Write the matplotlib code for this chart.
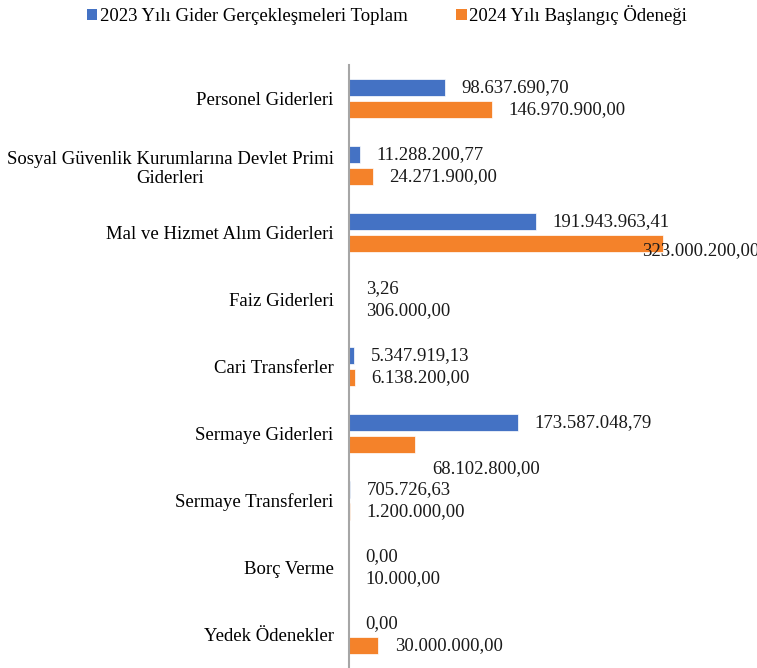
import matplotlib
matplotlib.use("Agg")
import matplotlib.pyplot as plt
import numpy as np
from matplotlib.patches import Patch

categories = [
    "Personel Giderleri",
    "Sosyal Güvenlik Kurumlarına Devlet Primi\nGiderleri",
    "Mal ve Hizmet Alım Giderleri",
    "Faiz Giderleri",
    "Cari Transferler",
    "Sermaye Giderleri",
    "Sermaye Transferleri",
    "Borç Verme",
    "Yedek Ödenekler",
]
series_2023 = [98637690.70, 11288200.77, 191943963.41, 3.26, 5347919.13,
               173587048.79, 705726.63, 0.00, 0.00]
series_2024 = [146970900.00, 24271900.00, 323000200.00, 306000.00, 6138200.00,
               68102800.00, 1200000.00, 10000.00, 30000000.00]
legend_labels = ["2023 Yılı Gider Gerçekleşmeleri Toplam", "2024 Yılı Başlangıç Ödeneği"]

BLUE = "#4472C4"
ORANGE = "#F4822A"
FONT = ["Liberation Serif", "DejaVu Serif"]
FS = 13.5

plt.rcParams["font.family"] = FONT


def tr_fmt(v):
    s = f"{v:,.2f}"
    return s.replace(",", "X").replace(".", ",").replace("X", ".")


W, H = 757, 668
fig = plt.figure(figsize=(W / 100, H / 100), dpi=100)
ax = fig.add_axes([349 / W, 0.0, 1 - 349 / W, 1 - 65 / H])

y = np.arange(len(categories))
off = 0.165
h = 0.255
b1 = ax.barh(y - off, series_2023, height=h, color=BLUE, edgecolor="white", linewidth=0.5)
b2 = ax.barh(y + off, series_2024, height=h, color=ORANGE, edgecolor="white", linewidth=0.5)

ax.set_xlim(0, 419.5e6)
ax.set_ylim(len(categories) - 0.5, -0.5)
ax.set_yticks(y)
ax.set_yticklabels(categories, fontsize=FS, ha="right", multialignment="center")
ax.tick_params(axis="y", length=0, pad=11)
ax.set_xticks([])
for s in ["top", "right", "bottom"]:
    ax.spines[s].set_visible(False)
ax.spines["left"].set_color("#A6A6A6")
ax.spines["left"].set_linewidth(1.5)

# label offset tweaks (points) for the 2024 series
tweak_2024 = {2: (-15, -5), 5: (12, -17)}

for i, v in enumerate(series_2023):
    ax.annotate(tr_fmt(v), (v, y[i] - off), xytext=(12, 0), textcoords="offset points",
                ha="left", va="center", fontsize=FS, color="#1a1a1a", annotation_clip=False)
for i, v in enumerate(series_2024):
    dx, dy = tweak_2024.get(i, (12, 0))
    ax.annotate(tr_fmt(v), (v, y[i] + off), xytext=(dx, dy), textcoords="offset points",
                ha="left", va="center", fontsize=FS, color="#1a1a1a", annotation_clip=False)

handles = [Patch(facecolor=BLUE), Patch(facecolor=ORANGE)]
fig.legend(handles, legend_labels, loc="center", bbox_to_anchor=(387 / W, 1 - 15 / H),
           ncol=2, frameon=False, fontsize=FS, handlelength=0.55, handleheight=0.55,
           handletextpad=0.15, columnspacing=2.6, borderaxespad=0)

fig.savefig("out.png", dpi=100)
